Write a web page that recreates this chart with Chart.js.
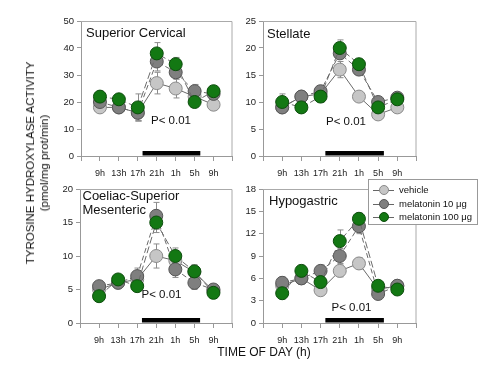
<!DOCTYPE html>
<html>
<head>
<meta charset="utf-8">
<script src="https://cdn.jsdelivr.net/npm/chart.js@4"></script>
<style>
body { margin: 0; background: #fff; font-family: Arial, "Liberation Sans", sans-serif; }
#wrap { position: relative; width: 500px; height: 368px; overflow: hidden; }
canvas { position: absolute; }
.t { position: absolute; white-space: nowrap; color: #111; line-height: 1; }
.title { font-size: 13px; }
.p { font-size: 11.5px; }
#legend { position: absolute; left: 368px; top: 179px; width: 108px; height: 44px; border: 1px solid #999; background: #fff; }
.row { position: absolute; left: 0; height: 12px; width: 108px; }
.row .ln { position: absolute; left: 4px; top: 6px; width: 21px; border-top: 1px solid #666; }
.row .dot { position: absolute; left: 10px; top: 1px; width: 10px; height: 10px; border-radius: 50%; border: 1px solid #555; box-sizing: border-box; }
.row .lb { position: absolute; left: 30px; top: 1px; font-size: 9.5px; line-height: 1; color: #111; white-space: nowrap; }
</style>
</head>
<body>
<div id="wrap">
  <canvas id="scg"></canvas>
  <canvas id="stellate"></canvas>
  <canvas id="coeliac"></canvas>
  <canvas id="hypo"></canvas>

  <div class="t title" style="left:86px;top:25.5px">Superior Cervical</div>
  <div class="t title" style="left:267px;top:27px">Stellate</div>
  <div class="t title" style="left:82.5px;top:190px;line-height:14px;margin-top:-1px">Coeliac-Superior<br>Mesenteric</div>
  <div class="t title" style="left:269px;top:193.5px">Hypogastric</div>

  <div class="t p" style="left:151px;top:114.5px">P&lt; 0.01</div>
  <div class="t p" style="left:326px;top:116px">P&lt; 0.01</div>
  <div class="t p" style="left:141.5px;top:288.5px">P&lt; 0.01</div>
  <div class="t p" style="left:331.5px;top:302px">P&lt; 0.01</div>

  <div class="t" style="left:37px;top:163px;transform:translate(-50%,-50%) rotate(-90deg);font-size:11.5px;line-height:14px;text-align:center">TYROSINE HYDROXYLASE ACTIVITY<br>(pmol/mg prot/min)</div>
  <div class="t" style="left:264px;top:352px;transform:translate(-50%,-50%);font-size:12px">TIME OF DAY (h)</div>

  <div id="legend"></div>
</div>
<script>
// time points and groups
var times = ['9h', '13h', '17h', '21h', '1h', '5h', '9h'];
var groups = ['vehicle', 'melatonin 10 \u03bcg', 'melatonin 100 \u03bcg'];

// superior cervical ganglion
var scgVehicle = [18, 18, 16, 27, 25, 22, 19];
var scgMel10 = [20, 18, 16, 35, 31, 24, 23];
var scgMel100 = [22, 21, 18, 38, 34, 20, 24];
var scgVehicleErr = [1.5, 1.5, 3, 4, 3.5, 2, 1];
var scgMel10Err = [1.5, 1.5, 3, 3.5, 2.5, 2.5, 1.5];
var scgMel100Err = [2, 1.5, 5, 4, 2.5, 1.5, 1.5];

// stellate ganglion
var stVehicle = [9, 11, 11.5, 16, 11, 7.7, 9];
var stMel10 = [9, 11, 12, 19, 16, 10, 10.8];
var stMel100 = [10, 9, 11, 20, 17, 9, 10.5];
var stVehicleErr = [1, 0.8, 1, 1.5, 0.6, 0.6, 0.6];
var stMel10Err = [0.8, 0.8, 1, 1, 1, 0.8, 0.6];
var stMel100Err = [1.5, 0.8, 1, 1.5, 1, 0.8, 0.8];

// coeliac-superior mesenteric ganglion
var csmVehicle = [5, 6, 6.5, 10, 9.3, 7.6, 4.8];
var csmMel10 = [5.5, 6, 7, 16, 8, 6, 5];
var csmMel100 = [4, 6.5, 5.5, 15, 10, 7.7, 4.5];
var csmVehicleErr = [0.8, 0.6, 0.8, 1.8, 1, 0.8, 0.5];
var csmMel10Err = [0.8, 0.6, 1.2, 2, 1.2, 1, 0.5];
var csmMel100Err = [0.8, 0.6, 0.8, 1.5, 1.2, 1, 0.5];

// hypogastric ganglion
var hypVehicle = [5, 6, 4.4, 7, 8, 4.5, 5];
var hypMel10 = [5.4, 6, 7, 9, 13, 3.9, 5];
var hypMel100 = [4, 7, 5.5, 11, 14, 5, 4.5];
var hypVehicleErr = [0.6, 0.6, 0.6, 0.8, 0.8, 0.5, 0.5];
var hypMel10Err = [0.8, 0.8, 0.8, 1, 1, 0.5, 0.5];
var hypMel100Err = [0.8, 0.8, 0.8, 1.5, 0.8, 0.5, 0.5];

// dark phase of the light cycle, in time-point units
var darkPhase = [2.25, 5.3];

var fills = ['#c6c6c6', '#7f7f7f', '#137813'];
var edges = ['#8a8a8a', '#555', '#0c4d0c'];
var dashes = [[], [5, 3], [7, 3]];

var panelPlugin = {
  id: 'panelPlugin',
  beforeDatasetsDraw: function(chart) {
    var ctx = chart.ctx, xs = chart.scales.x, ys = chart.scales.y, a = chart.chartArea;
    ctx.save();
    // frame
    ctx.strokeStyle = '#aaa';
    ctx.lineWidth = 1;
    ctx.beginPath();
    ctx.moveTo(a.left, a.top + 0.5);
    ctx.lineTo(a.right - 0.5, a.top + 0.5);
    ctx.lineTo(a.right - 0.5, a.bottom);
    ctx.stroke();
    // dark phase bar
    var y0 = ys.getPixelForValue(0);
    ctx.fillStyle = '#000';
    ctx.fillRect(xs.getPixelForValue(darkPhase[0]), y0 - 5, xs.getPixelForValue(darkPhase[1]) - xs.getPixelForValue(darkPhase[0]), 4.5);
    // error bars
    ctx.strokeStyle = '#8c8c8c';
    chart.data.datasets.forEach(function(ds) {
      ds.data.forEach(function(p, i) {
        var e = ds.errors[i];
        var px = Math.round(xs.getPixelForValue(p.x)) + 0.5;
        var t = ys.getPixelForValue(p.y + e), b = ys.getPixelForValue(p.y - e);
        ctx.beginPath();
        ctx.moveTo(px, t); ctx.lineTo(px, b);
        ctx.moveTo(px - 3, t); ctx.lineTo(px + 3, t);
        ctx.moveTo(px - 3, b); ctx.lineTo(px + 3, b);
        ctx.stroke();
      });
    });
    ctx.restore();
  }
};

function makePanel(id, series, errs, yMax, yStep, L, T, R, B) {
  var canvas = document.getElementById(id);
  var w = Math.round(R - L + 46), h = Math.round(B - T + 42);
  canvas.width = w; canvas.height = h;
  canvas.style.left = (L - 40) + 'px';
  canvas.style.top = (T - 12) + 'px';
  var datasets = series.map(function(vals, g) {
    return {
      label: groups[g],
      data: vals.map(function(v, i) { return { x: i, y: v }; }),
      errors: errs[g],
      order: 3 - g,
      borderColor: '#6a6a6a',
      borderWidth: 1,
      borderDash: dashes[g],
      pointRadius: 6.5,
      pointBackgroundColor: fills[g],
      pointBorderColor: edges[g],
      pointBorderWidth: 1,
      tension: 0
    };
  });
  return new Chart(canvas.getContext('2d'), {
    type: 'line',
    data: { datasets: datasets },
    options: {
      responsive: false,
      animation: false,
      devicePixelRatio: 1,
      layout: { padding: { top: 12, right: 6, left: 0, bottom: 0 } },
      plugins: { legend: { display: false }, tooltip: { enabled: false } },
      scales: {
        x: {
          type: 'linear', min: -1, max: 7,
          afterFit: function(s) { s.height = 30; },
          grid: { drawOnChartArea: false, tickLength: 5, color: '#999' },
          border: { color: '#999' },
          ticks: {
            stepSize: 1, autoSkip: false, maxRotation: 0, padding: 7,
            color: '#222', font: { family: 'Arial', size: 9 },
            callback: function(v) { var k = Math.round(v); return k >= 0 && k < times.length ? times[k] : ''; }
          }
        },
        y: {
          min: 0, max: yMax,
          afterFit: function(s) { s.width = 40; },
          grid: { drawOnChartArea: false, tickLength: 4, color: '#999' },
          border: { color: '#999' },
          ticks: { stepSize: yStep, padding: 3, color: '#222', font: { family: 'Arial', size: 9.5 } }
        }
      }
    },
    plugins: [panelPlugin]
  });
}

makePanel('scg', [scgVehicle, scgMel10, scgMel100], [scgVehicleErr, scgMel10Err, scgMel100Err], 50, 10, 81, 21, 234, 155.5);
makePanel('stellate', [stVehicle, stMel10, stMel100], [stVehicleErr, stMel10Err, stMel100Err], 25, 5, 263, 21, 418, 155.5);
makePanel('coeliac', [csmVehicle, csmMel10, csmMel100], [csmVehicleErr, csmMel10Err, csmMel100Err], 20, 5, 80, 189, 234, 323);
makePanel('hypo', [hypVehicle, hypMel10, hypMel100], [hypVehicleErr, hypMel10Err, hypMel100Err], 18, 3, 263, 189, 418, 323);

// legend
var legend = document.getElementById('legend');
groups.forEach(function(name, g) {
  var row = document.createElement('div');
  row.className = 'row';
  row.style.top = (4 + g * 13.5) + 'px';
  row.innerHTML = '<div class="ln"></div><div class="dot" style="background:' + fills[g] + ';border-color:' + edges[g] + '"></div><div class="lb"></div>';
  row.querySelector('.lb').textContent = name;
  legend.appendChild(row);
});
</script>
</body>
</html>
